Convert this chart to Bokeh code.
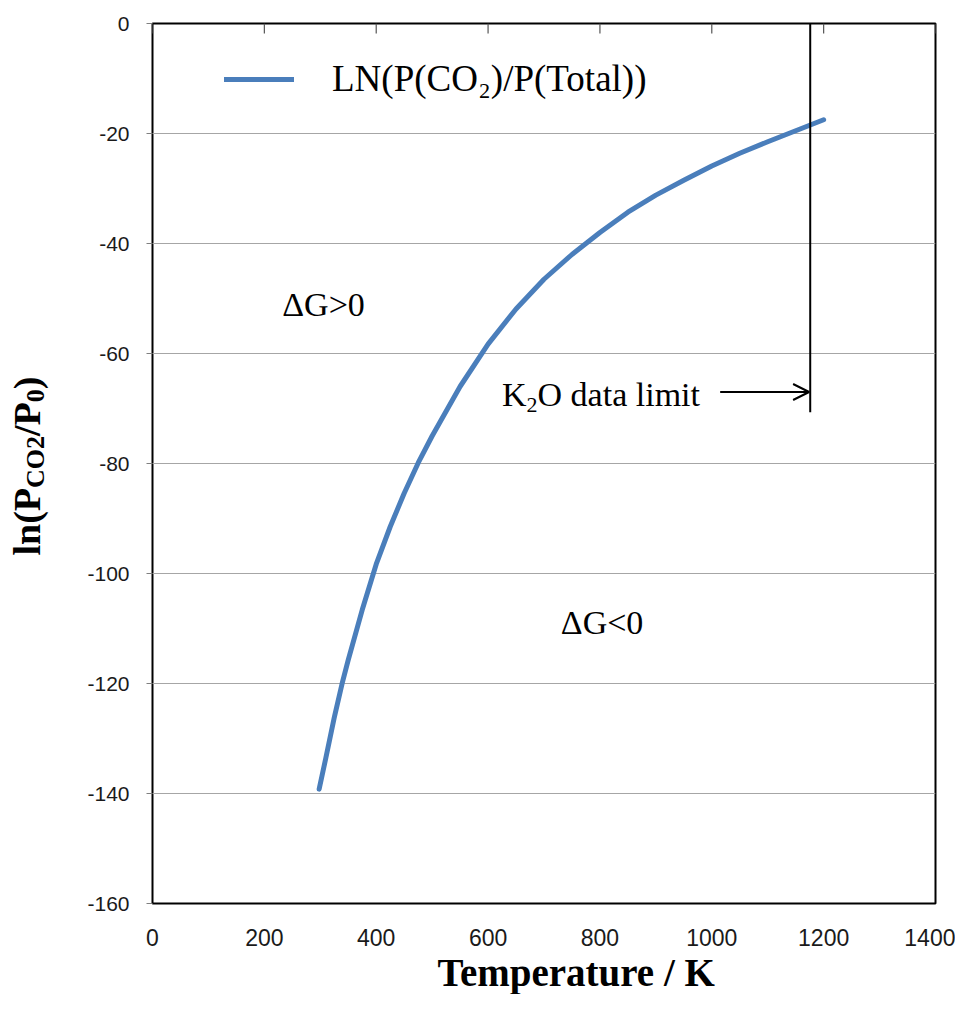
from bokeh.plotting import figure
from bokeh.layouts import row
from bokeh.models import (Label, Title, Div, Arrow, OpenHead, Legend, LegendItem,
                          FixedTicker, Range1d)
from bokeh.embed import file_html
from bokeh.resources import INLINE

# ---- data ----
temperature_K = [298, 310, 325, 340, 350, 375, 400, 425, 450, 475, 500, 550, 600,
                 650, 700, 750, 800, 850, 900, 950, 1000, 1050, 1100, 1150, 1200]
ln_ratio = [-139.2, -133.5, -126.2, -119.6, -115.7, -106.6, -98.3, -91.5, -85.4,
            -79.9, -75.0, -66.0, -58.3, -51.9, -46.5, -42.0, -38.0, -34.3, -31.2,
            -28.5, -25.9, -23.6, -21.5, -19.5, -17.5]

x_ticks = [0, 200, 400, 600, 800, 1000, 1200, 1400]
y_ticks = [-160, -140, -120, -100, -80, -60, -40, -20, 0]
grid_ticks = [-140, -120, -100, -80, -60, -40, -20]

series_label = "LN(P(CO\u2082)/P(Total))"
x_title = "Temperature / K"
limit_T = 1176          # K2O data limit line position (K)
limit_bottom = -70.7    # lower end of the limit line
arrow_start_T = 1015
arrow_y = -67.0

SERIF = "Liberation Serif"
SANS = "Liberation Sans"
NARROW = "'Liberation Sans Narrow', 'Liberation Sans'"

YDIV_W = 60
p = figure(width=955 - YDIV_W, height=994, x_range=Range1d(0, 1400), y_range=Range1d(-160, 0),
           output_backend="svg", toolbar_location=None,
           min_border_left=152 - YDIV_W, min_border_right=20, min_border_top=23,
           min_border_bottom=91)
p.background_fill_color = "white"
p.border_fill_color = "white"
p.outline_line_color = "black"
p.outline_line_width = 2

# bottom axis: labels only
p.xaxis.ticker = FixedTicker(ticks=x_ticks)
p.xaxis.axis_line_color = None
p.xaxis.major_tick_line_color = None
p.xaxis.minor_tick_line_color = None
p.xaxis.major_label_text_font = NARROW
p.xaxis.major_label_text_font_size = "23px"
p.xaxis.major_label_text_color = "#1a1a1a"
p.xaxis.major_label_standoff = 19

# left axis
p.yaxis.ticker = FixedTicker(ticks=y_ticks)
p.yaxis.major_label_overrides = {t: str(t) for t in y_ticks}
p.yaxis.axis_line_color = None
p.yaxis.major_tick_out = 6
p.yaxis.major_tick_in = 0
p.yaxis.major_tick_line_color = "#7f7f7f"
p.yaxis.minor_tick_line_color = None
p.yaxis.major_label_text_font = SANS
p.yaxis.major_label_text_font_size = "21px"
p.yaxis.major_label_text_color = "#1a1a1a"
p.yaxis.major_label_standoff = 17

# x-axis title
p.add_layout(Title(text=x_title, align="left", offset=285, standoff=0,
                   text_font=SERIF, text_font_size="39px", text_font_style="bold",
                   text_color="black"), "below")

p.xgrid.visible = False
p.ygrid.ticker = FixedTicker(ticks=grid_ticks)
p.ygrid.grid_line_color = "#a6a6a6"
p.ygrid.grid_line_width = 1

# inward tick marks along the top edge (the x axis crosses at y = 0)
top_tick_len = 1.8   # in y units (about 10 px)
p.segment(x0=x_ticks, y0=[y_ticks[-1]] * len(x_ticks), x1=x_ticks,
          y1=[y_ticks[-1] - top_tick_len] * len(x_ticks),
          line_color="#555555", line_width=1.2)

r = p.line(temperature_K, ln_ratio, line_width=5, line_color="#4a7ebb",
           line_cap="round", line_join="round")

legend = Legend(items=[LegendItem(label=series_label, renderers=[r])],
                location=(72, 880 - 77), border_line_color=None,
                background_fill_alpha=0, padding=0, margin=0, spacing=0,
                glyph_width=70, glyph_height=34, label_height=34,
                label_standoff=38, label_text_font=SERIF,
                label_text_font_size="37px", label_text_color="black")
p.add_layout(legend)

# K2O data limit line + arrow
p.segment(x0=[limit_T], y0=[0], x1=[limit_T], y1=[limit_bottom],
          line_color="black", line_width=2)
p.add_layout(Arrow(end=OpenHead(size=16, line_width=2, line_color="black"),
                   x_start=arrow_start_T, y_start=arrow_y, x_end=limit_T - 2, y_end=arrow_y,
                   line_width=2, line_color="black"))

def lab(text, x, y, size, **kw):
    p.add_layout(Label(x=x, y=y, text=text, text_font=SERIF, text_font_size=size,
                       text_color="black", text_baseline="middle", **kw))

lab("\u0394G>0", 232, -51.1, "34px")
lab("\u0394G<0", 730, -108.9, "34px")
lab("K", 625, -67.5, "34px")
lab("2", 625, -67.5, "22px", x_offset=24.5, y_offset=-10)
lab("O data limit", 625, -67.5, "34px", x_offset=35.5)

# y-axis title (with real subscripts) in a narrow div left of the plot
sub = "font-size:26px;vertical-align:-4px;"
y_title_html = (
    '<div style="width:%dpx;height:994px;position:relative;">'
    '<div style="position:absolute;left:28px;top:466px;'
    'transform:translate(-50%%,-50%%) rotate(-90deg);white-space:nowrap;'
    "font-family:'Liberation Serif';font-weight:bold;font-size:38px;line-height:1;"
    'color:black;">ln(P<span style="%s">CO2</span>/P<span style="%s">0</span>)</div></div>'
) % (YDIV_W, sub, sub)
ydiv = Div(text=y_title_html, width=YDIV_W, height=994, margin=0)

layout = row(ydiv, p, spacing=0)
open("out.html", "w").write(file_html(layout, INLINE))
